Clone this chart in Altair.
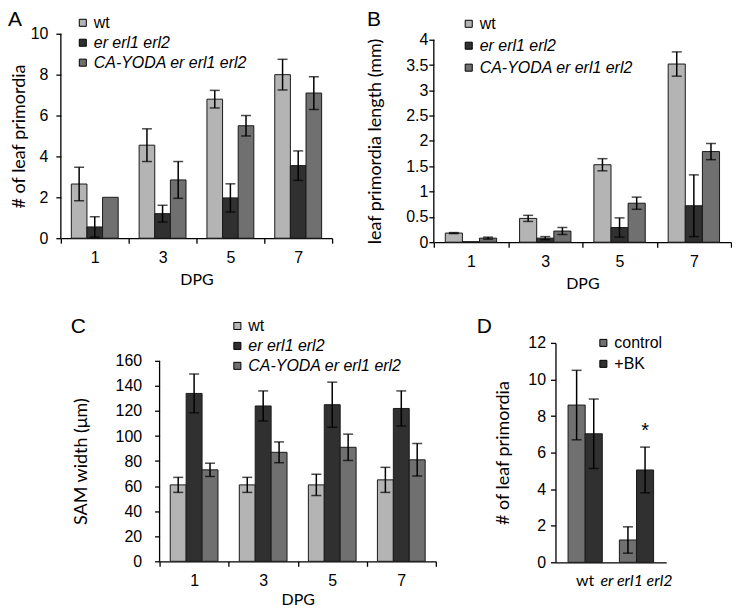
import altair as alt
import pandas as pd

# ---------------- data ----------------
dpg = ["1", "3", "5", "7"]
genotypes = ["wt", "er erl1 erl2", "CA-YODA er erl1 erl2"]
geno_colors = ["#b4b4b4", "#303030", "#707070"]

# Panel A: # of leaf primordia
a_wt = [2.65, 4.55, 6.8, 8.0]
a_wt_err = [0.82, 0.8, 0.43, 0.75]
a_er = [0.55, 1.2, 1.97, 3.55]
a_er_err = [0.5, 0.41, 0.69, 0.72]
a_ca = [2.0, 2.85, 5.5, 7.1]
a_ca_err = [0.0, 0.9, 0.5, 0.8]

# Panel B: leaf primordia length (mm)
b_wt = [0.18, 0.47, 1.53, 3.52]
b_wt_err = [0.01, 0.06, 0.12, 0.24]
b_er = [0.01, 0.08, 0.29, 0.72]
b_er_err = [0.0, 0.03, 0.19, 0.61]
b_ca = [0.08, 0.22, 0.77, 1.79]
b_ca_err = [0.02, 0.07, 0.12, 0.16]

# Panel C: SAM width (um)
c_wt = [61, 61, 61, 65]
c_wt_err = [6, 6, 8.5, 10]
c_er = [134, 124, 125, 122]
c_er_err = [15.5, 12, 18, 14]
c_ca = [73, 87, 91, 81]
c_ca_err = [5.3, 8.3, 10.5, 13]

# Panel D: # of leaf primordia, control vs +BK
d_groups = ["wt", "er erl1 erl2"]
d_treat = ["control", "+BK"]
d_colors = ["#707070", "#303030"]
d_control = [8.6, 1.22]
d_control_err = [1.9, 0.72]
d_bk = [7.03, 5.05]
d_bk_err = [1.9, 1.25]
d_bk_sig = ["", "*"]

TICK_FONT = "Liberation Sans"
TITLE_FONT = "Lato"


def long_df(series, errs):
    rows = []
    for g, vals, es in zip(genotypes, series, errs):
        for d, v, e in zip(dpg, vals, es):
            rows.append({"dpg": d, "genotype": g, "value": v, "err": e,
                         "lo": max(v - e, 0), "hi": v + e})
    return pd.DataFrame(rows)


def letter_layer(letter, dx, dy):
    return alt.Chart(pd.DataFrame({"t": [letter]})).mark_text(
        align="left", baseline="top", font=TICK_FONT, fontSize=21, color="black"
    ).encode(text="t:N", x=alt.value(dx), y=alt.value(dy))


def frame_layer(left, right, top, bottom):
    # invisible box that fixes each panel's layout bounds
    return alt.Chart(pd.DataFrame({"f": [0]})).mark_rect(opacity=0).encode(
        x=alt.value(left), x2=alt.value(right), y=alt.value(top), y2=alt.value(bottom))


def bar_panel(df, ymax, yvals, yfmt, ytitle, width, height, axis_h, letter, letter_xy,
              legend_xy, row_pad, lab_pad, title_pad, frame, x_title_pad=6):
    # the plot may be taller than the drawn value axis (axis_h px covers 0..ymax)
    dom_max = ymax * height / axis_h
    x = alt.X("dpg:N", sort=dpg, title="DPG",
              scale=alt.Scale(paddingInner=0, paddingOuter=0),
              axis=alt.Axis(labelAngle=0, tickBand="extent", tickSize=5,
                            labelPadding=6, titlePadding=x_title_pad,
                            labelFont=TICK_FONT, labelFontSize=16,
                            titleFont=TITLE_FONT, titleFontSize=16))
    xo = alt.XOffset("genotype:N", sort=genotypes,
                     scale=alt.Scale(domain=genotypes, paddingInner=0, paddingOuter=0.67))
    yscale = alt.Scale(domain=[0, dom_max], nice=False, zero=True)
    y = alt.Y("value:Q", scale=yscale, title=ytitle,
              axis=alt.Axis(values=yvals, tickCount=40, format=yfmt, labelOverlap=False,
                            domain=False, tickSize=5, labelPadding=lab_pad,
                            titlePadding=title_pad, titleY=axis_h / 2 + (height - axis_h),
                            labelFont=TICK_FONT, labelFontSize=16,
                            titleFont=TITLE_FONT, titleFontSize=18))
    base = alt.Chart(df)
    bars = base.mark_bar(stroke="#1a1a1a", strokeWidth=1).encode(
        x=x, xOffset=xo, y=y,
        color=alt.Color("genotype:N", sort=genotypes,
                        scale=alt.Scale(domain=genotypes, range=geno_colors),
                        legend=alt.Legend(orient="none", legendX=legend_xy[0], legendY=legend_xy[1],
                                          title=None, symbolType="square", symbolSize=50,
                                          symbolStrokeColor="black", symbolStrokeWidth=1,
                                          labelFont=TICK_FONT, labelFontSize=16,
                                          labelFontStyle={"expr": "datum.label == 'wt' ? 'normal' : 'italic'"},
                                          labelOffset=3, rowPadding=row_pad, labelLimit=400)))
    axis_line = alt.Chart(pd.DataFrame({"lo": [0], "hi": [ymax]})).mark_rule(
        color="black", strokeWidth=1.3).encode(
        x=alt.value(0), y=alt.Y("lo:Q", scale=yscale), y2="hi:Q")
    errd = base.transform_filter("datum.err > 0")
    rule = errd.mark_rule(color="black", strokeWidth=1.5).encode(
        x=x, xOffset=xo, y=alt.Y("lo:Q", scale=yscale), y2="hi:Q")
    cap_hi = errd.mark_tick(color="black", size=10, thickness=1.5, orient="horizontal").encode(
        x=x, xOffset=xo, y=alt.Y("hi:Q", scale=yscale))
    cap_lo = errd.mark_tick(color="black", size=10, thickness=1.5, orient="horizontal").encode(
        x=x, xOffset=xo, y=alt.Y("lo:Q", scale=yscale))
    return alt.layer(frame_layer(*frame), bars, axis_line, rule, cap_hi, cap_lo,
                     letter_layer(letter, letter_xy[0], letter_xy[1])).properties(
        width=width, height=height)


def spacer(w, h):
    return alt.Chart(pd.DataFrame({"a": [0]})).mark_point(opacity=0).encode(
        x=alt.X("a:Q", axis=None), y=alt.Y("a:Q", axis=None)).properties(width=w, height=h)


dfA = long_df([a_wt, a_er, a_ca], [a_wt_err, a_er_err, a_ca_err])
dfB = long_df([b_wt, b_er, b_ca], [b_wt_err, b_er_err, b_ca_err])
dfC = long_df([c_wt, c_er, c_ca], [c_wt_err, c_er_err, c_ca_err])

panelA = bar_panel(dfA, 10, [0, 2, 4, 6, 8, 10], "d", "# of leaf primordia", 272, 205, 205,
                   "A", (-53, -25), (14, -19), 4, lab_pad=8, title_pad=2,
                   frame=(-53, 275, -25, 262))
panelB = bar_panel(dfB, 4, [0, 0.5, 1, 1.5, 2, 2.5, 3, 3.5, 4], ".1~f",
                   "leaf primordia length (mm)", 298, 209, 203,
                   "B", (-67, -25), (27, -18), 6, lab_pad=1, title_pad=21,
                   frame=(-68, 298, -25, 262))
panelC = bar_panel(dfC, 160, [0, 20, 40, 60, 80, 100, 120, 140, 160], "d", "SAM width (\u03bcm)",
                   277, 219, 201, "C", (-89, -27), (70, -25), 4, lab_pad=13, title_pad=25,
                   frame=(-92, 280, -40, 0), x_title_pad=3)

# Panel D
rows = []
for g, c, ce, b, be, s in zip(d_groups, d_control, d_control_err, d_bk, d_bk_err, d_bk_sig):
    rows.append({"group": g, "treat": "control", "value": c, "err": ce,
                 "lo": max(c - ce, 0), "hi": c + ce, "sig": ""})
    rows.append({"group": g, "treat": "+BK", "value": b, "err": be,
                 "lo": max(b - be, 0), "hi": b + be, "sig": s})
dfD = pd.DataFrame(rows)

xD = alt.X("group:N", sort=d_groups, title=None,
           scale=alt.Scale(paddingInner=0.333, paddingOuter=0.245),
           axis=alt.Axis(labelAngle=0, ticks=False, labelPadding=10,
                         labelFont=TITLE_FONT, labelFontSize=16,
                         labelFontStyle={"expr": "datum.value == 'wt' ? 'normal' : 'italic'"}))
xoD = alt.XOffset("treat:N", sort=d_treat, scale=alt.Scale(domain=d_treat, paddingInner=0, paddingOuter=0))
ysD = alt.Scale(domain=[0, 12], nice=False, zero=True)
yD = alt.Y("value:Q", scale=ysD, title="# of leaf primordia",
           axis=alt.Axis(values=[0, 2, 4, 6, 8, 10, 12], tickCount=40, format="d",
                         labelOverlap=False, tickSize=5, labelPadding=5, titlePadding=15,
                         labelFont=TICK_FONT, labelFontSize=16,
                         titleFont=TITLE_FONT, titleFontSize=18))
baseD = alt.Chart(dfD)
barsD = baseD.mark_bar(stroke="#1a1a1a", strokeWidth=1).encode(
    x=xD, xOffset=xoD, y=yD,
    color=alt.Color("treat:N", sort=d_treat, scale=alt.Scale(domain=d_treat, range=d_colors),
                    legend=alt.Legend(orient="none", legendX=40, legendY=-8, title=None,
                                      symbolType="square", symbolSize=50,
                                      symbolStrokeColor="black", symbolStrokeWidth=1,
                                      labelFont=TICK_FONT, labelFontSize=16,
                                      labelFontStyle="normal",
                                      labelOffset=3, rowPadding=5)))
ruleD = baseD.mark_rule(color="black", strokeWidth=1.5).encode(
    x=xD, xOffset=xoD, y=alt.Y("lo:Q", scale=ysD), y2="hi:Q")
capHiD = baseD.mark_tick(color="black", size=10, thickness=1.5, orient="horizontal").encode(
    x=xD, xOffset=xoD, y=alt.Y("hi:Q", scale=ysD))
capLoD = baseD.mark_tick(color="black", size=10, thickness=1.5, orient="horizontal").encode(
    x=xD, xOffset=xoD, y=alt.Y("lo:Q", scale=ysD))
sigD = baseD.transform_filter("datum.sig != ''").mark_text(
    baseline="bottom", dy=-6, fontSize=20, font=TICK_FONT, color="black").encode(
    x=xD, xOffset=xoD, y=alt.Y("hi:Q", scale=ysD), text="sig:N")
panelD = alt.layer(frame_layer(-117, 111, -40, 0), barsD, ruleD, capHiD, capLoD, sigD,
                   letter_layer("D", -79, -27)).properties(width=111, height=220)


def indep(c):
    return c.resolve_scale(color="independent", x="independent", y="independent",
                           xOffset="independent").resolve_legend(color="independent")


row1 = indep(alt.hconcat(panelA, panelB, spacing=31))
row2 = indep(alt.hconcat(spacer(7, 1), panelC, panelD, spacing=0))

chart = indep(alt.vconcat(row1, row2, spacing=8)).properties(padding=0).configure_view(
    strokeWidth=0
).configure_axis(
    grid=False, domainColor="black", tickColor="black", labelColor="black",
    titleColor="black", titleFontWeight="normal", domainWidth=1.3, tickWidth=1.3
).configure_legend(labelColor="black")

chart.save("out.html", embed_options={"renderer": "svg", "actions": False})
